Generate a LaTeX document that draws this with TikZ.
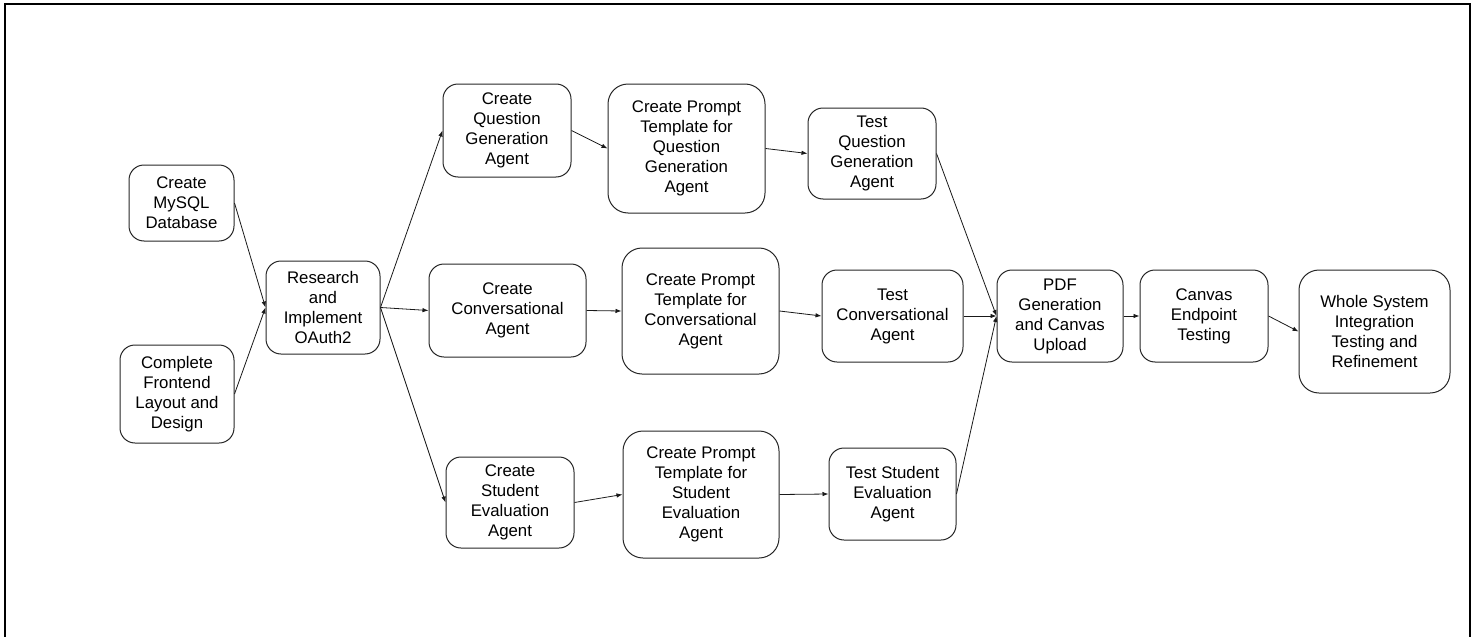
\documentclass[tikz,border=0pt]{standalone}
\usepackage{fontspec}
\setmainfont{Liberation Sans}
\usetikzlibrary{arrows.meta}

\tikzset{
    task/.style={draw=black!85, line width=1pt, rounded corners=15pt, align=center,
        inner sep=0pt, font=\fontsize{16.8}{20}\selectfont},
    bigtask/.style={task, rounded corners=20pt},
    flow/.style={draw=black!90, line width=0.8pt, -{Latex[length=6pt,width=4.5pt]}}
}

\begin{document}
\begin{tikzpicture}[x=1pt, y=-1pt]
    \useasboundingbox (0,0) rectangle (1476,637);
    \draw[line width=2.4pt] (5,4) rectangle (1470,660);

    % setup
    \node[task, minimum width=105pt, minimum height=76pt] (mysql) at (181.5,203) {Create\\MySQL\\Database};
    \node[task, minimum width=114pt, minimum height=98pt] (front) at (177,394) {Complete\\Frontend\\Layout and\\Design};
    \node[task, minimum width=114pt, minimum height=93pt] (oauth) at (323,307.5) {Research\\and\\Implement\\OAuth2};

    % agents
    \node[task, minimum width=128pt, minimum height=93pt] (qgen) at (507,130.5) {Create\\Question\\Generation\\Agent};
    \node[task, minimum width=157pt, minimum height=93pt] (conv) at (507.5,310.5) {Create\\Conversational\\Agent};
    \node[task, minimum width=128pt, minimum height=91pt] (steval) at (510,502.5) {Create\\Student\\Evaluation\\Agent};

    % prompt templates
    \node[bigtask, minimum width=157pt, minimum height=129pt] (qprompt) at (686.5,148.5) {Create Prompt\\Template for\\Question\\Generation\\Agent};
    \node[bigtask, minimum width=157pt, minimum height=126pt] (cprompt) at (700.5,311) {Create Prompt\\Template for\\Conversational\\Agent};
    \node[bigtask, minimum width=156pt, minimum height=127pt] (sprompt) at (701,494.5) {Create Prompt\\Template for\\Student\\Evaluation\\Agent};

    % tests
    \node[task, minimum width=128pt, minimum height=91pt] (qtest) at (872,153.5) {Test\\Question\\Generation\\Agent};
    \node[task, minimum width=141pt, minimum height=92pt] (ctest) at (892.5,316) {Test\\Conversational\\Agent};
    \node[task, minimum width=127pt, minimum height=92pt] (stest) at (892.5,494) {Test Student\\Evaluation\\Agent};

    % canvas and final steps
    \node[task, minimum width=126pt, minimum height=92pt] (pdf) at (1060,316) {PDF\\Generation\\and Canvas\\Upload};
    \node[task, minimum width=128pt, minimum height=92pt] (canvas) at (1204,316) {Canvas\\Endpoint\\Testing};
    \node[bigtask, minimum width=151pt, minimum height=123pt] (whole) at (1374.5,331.5) {Whole System\\Integration\\Testing and\\Refinement};

    \draw[flow] (mysql.east) -- (oauth.west);
    \draw[flow] (front.east) -- (oauth.west);
    \draw[flow] (oauth.east) -- (qgen.west);
    \draw[flow] (oauth.east) -- (conv.west);
    \draw[flow] (oauth.east) -- (steval.west);
    \draw[flow] (qgen.east) -- (qprompt.west);
    \draw[flow] (conv.east) -- (cprompt.west);
    \draw[flow] (steval.east) -- (sprompt.west);
    \draw[flow] (qprompt.east) -- (qtest.west);
    \draw[flow] (cprompt.east) -- (ctest.west);
    \draw[flow] (sprompt.east) -- (stest.west);
    \draw[flow] (qtest.east) -- (pdf.west);
    \draw[flow] (ctest.east) -- (pdf.west);
    \draw[flow] (stest.east) -- (pdf.west);
    \draw[flow] (pdf.east) -- (canvas.west);
    \draw[flow] (canvas.east) -- (whole.west);
\end{tikzpicture}
\end{document}
